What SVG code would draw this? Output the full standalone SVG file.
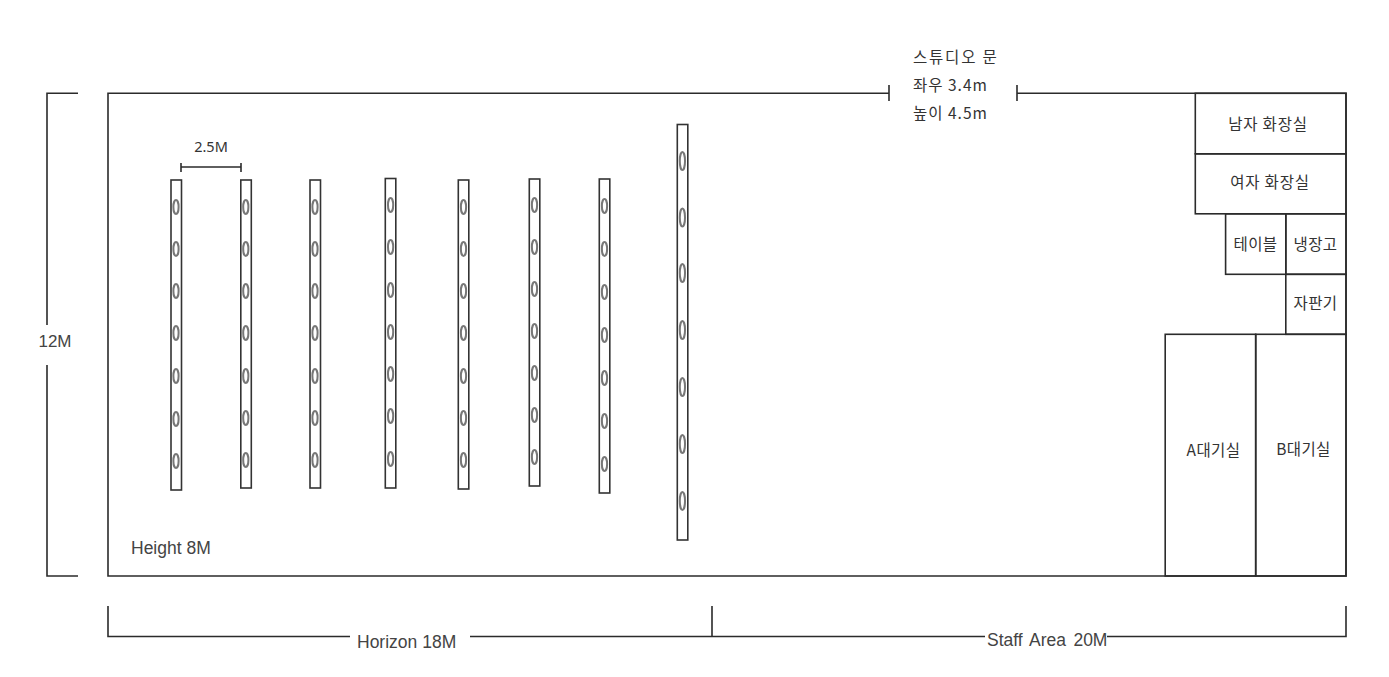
<svg xmlns="http://www.w3.org/2000/svg" width="1389" height="677" viewBox="0 0 1389 677">
<style>
text{font-family:"Noto Sans CJK KR","Liberation Sans",sans-serif;font-size:15.500px;fill:#333}
.en{font-family:"Liberation Sans",Arial,sans-serif;font-size:17.500px;fill:#444}
.l{fill:none;stroke:#2b2b2b;stroke-width:1.6}
.bar{fill:#fff;stroke:#333;stroke-width:1.6}
.o{fill:#fff;stroke:#777;stroke-width:2}
.c{text-anchor:middle}
.r{letter-spacing:.8px}
.t{letter-spacing:.4px}
</style>
<rect width="1389" height="677" fill="#fff"/>
<defs><ellipse id="o" class="o" rx="2.6" ry="7"/><ellipse id="O" class="o" rx="2.6" ry="9"/></defs>
<g id="studio-walls">
<path class="l" d="M889 93.300H108V576H1346V93.300H1017M889 85V101M1017 85V101"/>
</g>
<g id="connectors">
<path class="l" d="M78 93.300H47V325M47 365V576H78"/>
<path class="l" d="M108 606V636.500H350M470 636.500H712M712 606V636.500M712 636.500H985M1107 636.500H1346V606"/>
<path class="l" d="M181 167H241M181 163V172M241 163V172"/>
</g>
<g id="dim-labels">
<text class="en c" x="55" y="347" style="font-size:17px">12M</text>
<text class="en" x="131" y="554">Height 8M</text>
<text class="en" x="357" y="648">Horizon 18M</text>
<text class="en" x="987" y="646" style="word-spacing:2.500px">Staff Area 20M</text>
<text class="c" x="211" y="152" style="font-family:'Noto Sans',sans-serif;font-size:14.500px">2.5M</text>
</g>
<g id="door-label">
<text x="913" y="63" style="letter-spacing:1.800px">스튜디오 문</text>
<text x="913" y="91" style="letter-spacing:1px">좌우 3.4m</text>
<text x="913" y="119" style="letter-spacing:1px">높이 4.5m</text>
</g>
<g id="bar1"><rect class="bar" x="171" y="180" width="10.500" height="310"/><use href="#o" x="176" y="207"/><use href="#o" x="176" y="249"/><use href="#o" x="176" y="291"/><use href="#o" x="176" y="333"/><use href="#o" x="176" y="376"/><use href="#o" x="176" y="419"/><use href="#o" x="176" y="461"/></g>
<g id="bar2"><rect class="bar" x="240.800" y="180" width="10.500" height="308"/><use href="#o" x="245.800" y="207"/><use href="#o" x="245.800" y="249"/><use href="#o" x="245.800" y="291"/><use href="#o" x="245.800" y="333"/><use href="#o" x="245.800" y="376"/><use href="#o" x="245.800" y="418"/><use href="#o" x="245.800" y="460"/></g>
<g id="bar3"><rect class="bar" x="310" y="180" width="10.500" height="308"/><use href="#o" x="315" y="207"/><use href="#o" x="315" y="249"/><use href="#o" x="315" y="291"/><use href="#o" x="315" y="333"/><use href="#o" x="315" y="376"/><use href="#o" x="315" y="418"/><use href="#o" x="315" y="460"/></g>
<g id="bar4"><rect class="bar" x="385.300" y="178.500" width="10.500" height="309.500"/><use href="#o" x="390.600" y="205"/><use href="#o" x="390.600" y="247"/><use href="#o" x="390.600" y="290"/><use href="#o" x="390.600" y="332"/><use href="#o" x="390.600" y="374"/><use href="#o" x="390.600" y="416"/><use href="#o" x="390.600" y="459"/></g>
<g id="bar5"><rect class="bar" x="458.300" y="180" width="10.500" height="309"/><use href="#o" x="463.500" y="207"/><use href="#o" x="463.500" y="249"/><use href="#o" x="463.500" y="291"/><use href="#o" x="463.500" y="333"/><use href="#o" x="463.500" y="376"/><use href="#o" x="463.500" y="418"/><use href="#o" x="463.500" y="460"/></g>
<g id="bar6"><rect class="bar" x="529.300" y="179" width="10.500" height="307"/><use href="#o" x="534.500" y="205"/><use href="#o" x="534.500" y="247"/><use href="#o" x="534.500" y="289"/><use href="#o" x="534.500" y="331"/><use href="#o" x="534.500" y="373"/><use href="#o" x="534.500" y="415"/><use href="#o" x="534.500" y="457"/></g>
<g id="bar7"><rect class="bar" x="599.300" y="179" width="10.500" height="314"/><use href="#o" x="604.500" y="206"/><use href="#o" x="604.500" y="249"/><use href="#o" x="604.500" y="292"/><use href="#o" x="604.500" y="335"/><use href="#o" x="604.500" y="378"/><use href="#o" x="604.500" y="421"/><use href="#o" x="604.500" y="464"/></g>
<g id="bar8"><rect class="bar" x="677.300" y="124.500" width="10.500" height="415.500"/><use href="#O" x="682.400" y="161"/><use href="#O" x="682.400" y="217.500"/><use href="#O" x="682.400" y="273"/><use href="#O" x="682.400" y="330"/><use href="#O" x="682.400" y="387"/><use href="#O" x="682.400" y="444"/><use href="#O" x="682.400" y="501"/></g>
<g id="mens-room"><rect class="l" x="1195.300" y="93.300" width="150.700" height="60.500"/><text class="c r" x="1268" y="130">남자 화장실</text></g>
<g id="womens-room"><rect class="l" x="1195.300" y="153.800" width="150.700" height="60"/><text class="c r" x="1270" y="188">여자 화장실</text></g>
<g id="table"><rect class="l" x="1225.600" y="213.800" width="60.200" height="60.500"/><text class="c t" x="1255.500" y="250">테이블</text></g>
<g id="fridge"><rect class="l" x="1285.800" y="213.800" width="60.200" height="60.500"/><text class="c t" x="1315.500" y="250">냉장고</text></g>
<g id="vending"><rect class="l" x="1285.800" y="274.300" width="60.200" height="60"/><text class="c t" x="1315.500" y="309">자판기</text></g>
<g id="waiting-a"><rect class="l" x="1165.200" y="334.300" width="90.500" height="241.700"/><text class="c t" x="1213.500" y="456">A대기실</text></g>
<g id="waiting-b"><rect class="l" x="1255.700" y="334.300" width="90.300" height="241.700"/><text class="c t" x="1303.500" y="455">B대기실</text></g>
</svg>
